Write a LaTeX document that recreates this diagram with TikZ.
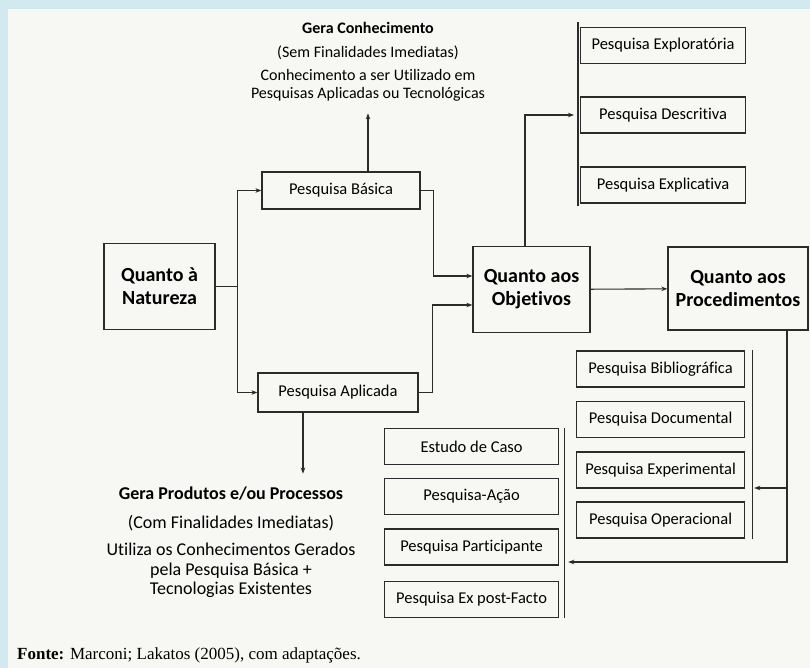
\documentclass[tikz,border=0pt]{standalone}
\usepackage{fontspec}
\setmainfont{Carlito}[Ligatures=NoCommon]
\newfontfamily\fonteserif{Liberation Serif}
\usetikzlibrary{arrows.meta}
\definecolor{linha}{HTML}{2B2B2B}
\definecolor{papel}{HTML}{F7F7F4}
\definecolor{moldura}{HTML}{D2E9EF}

\begin{document}
\begin{tikzpicture}[x=1pt, y=-1pt, >={Stealth[length=6pt, width=4.5pt]},
	caixa/.style={draw=linha, line width=1.2pt, fill=papel, minimum height=36pt, inner sep=0pt, font=\fontsize{16.5}{19}\selectfont},
	grande/.style={draw=linha, line width=1.3pt, fill=papel, minimum height=86pt, align=center, inner sep=0pt, font=\fontsize{20}{23}\selectfont\bfseries},
	nota/.style={align=center, inner sep=0pt, font=\fontsize{16}{18}\selectfont},
	liga/.style={draw=linha, line width=1.1pt}]
		\useasboundingbox (0, 0) rectangle (810, 668);
		\fill[moldura] (0, 0) rectangle (810, 668);
		\fill[papel] (8, 9) rectangle (810, 668);

		\node[grande, minimum width=111pt] (natureza) at (159.5, 286.5) {Quanto à\\Natureza};
		\node[grande, minimum width=117pt] (objetivos) at (531.5, 289.5) {Quanto aos\\Objetivos};
		\node[grande, minimum width=140pt, minimum height=83pt] (procedimentos) at (738, 288.5) {Quanto aos\\Procedimentos};

		\node[caixa, minimum width=158pt, minimum height=37pt] (basica) at (341, 190.5) {Pesquisa Básica};
		\node[caixa, minimum width=160pt, minimum height=39pt] (aplicada) at (338, 392.5) {Pesquisa Aplicada};

		\foreach \nome/\y/\texto in {exploratoria/45.5/Pesquisa Exploratória, descritiva/115/Pesquisa Descritiva, explicativa/185/Pesquisa Explicativa}
		\node[caixa, minimum width=165pt, anchor=west] (\nome) at (580, \y) {\texto};

		\foreach \nome/\y/\texto in {bibliografica/369/Pesquisa Bibliográfica, documental/419.5/Pesquisa Documental, experimental/470/Pesquisa Experimental, operacional/520/Pesquisa Operacional}
		\node[caixa, minimum width=168pt, anchor=west] (\nome) at (576, \y) {\texto};

		\foreach \nome/\y/\texto in {caso/446.5/Estudo de Caso, acao/496.5/Pesquisa-Ação, participante/547/Pesquisa Participante, expostfacto/599.5/Pesquisa Ex post-Facto}
		\node[caixa, minimum width=174pt, anchor=west] (\nome) at (384, \y) {\texto};

		\node[nota, anchor=north] (notabasica) at (368, 22) {\textbf{Gera Conhecimento}\\[6pt] (Sem Finalidades Imediatas)\\[5pt] Conhecimento a ser Utilizado em\\ Pesquisas Aplicadas ou Tecnológicas};
		\node[nota, anchor=north, font=\fontsize{18}{19.5}\selectfont] (notaaplicada) at (231, 487) {\textbf{Gera Produtos e/ou Processos}\\[9pt] (Com Finalidades Imediatas)\\[8pt] Utiliza os Conhecimentos Gerados\\ pela Pesquisa Básica +\\ Tecnologias Existentes};

		\node[anchor=west, inner sep=0pt, font=\fonteserif\fontsize{17}{20}\selectfont] (fonte) at (17, 655) {\textbf{Fonte:} Marconi; Lakatos (2005), com adaptações.};

		\draw[liga] (natureza.east) -- ++(22, 0) coordinate (ramo);
		\draw[liga, ->] (ramo) |- (basica.west);
		\draw[liga, ->] (ramo) |- (aplicada.west);
		\draw[liga, ->] (basica.east) -- ++(13, 0) |- ([yshift=13.5pt]objetivos.west);
		\draw[liga, ->] (aplicada.east) -- ++(14, 0) |- ([yshift=-15.5pt]objetivos.west);
		\draw[liga, ->] (basica.north -| notabasica.south) -- ([yshift=-12pt]notabasica.south);
		\draw[liga, ->] ([xshift=-35pt]aplicada.south) -- ++(0, 61);
		\draw[liga, ->] (objetivos) -- (procedimentos);

		\draw[liga] ([xshift=-2pt, yshift=5pt]exploratoria.north west) -- ([xshift=-2pt, yshift=-2pt]explicativa.south west);
		\draw[liga, ->] ([xshift=-6.5pt]objetivos.north) |- ([xshift=-6pt]descritiva.west);

		\draw[liga] ([xshift=7pt]bibliografica.north east) -- ([xshift=7pt]operacional.south east);
		\draw[liga] ([xshift=5pt]caso.north east) -- ([xshift=5pt]expostfacto.south east);
		\draw[liga, ->] ([xshift=49pt]procedimentos.south) |- ([xshift=9pt, yshift=-18pt]experimental.east);
		\draw[liga, ->] ([xshift=49pt]procedimentos.south) |- ([xshift=9pt, yshift=-15pt]participante.east);

	\end{tikzpicture}
\end{document}
